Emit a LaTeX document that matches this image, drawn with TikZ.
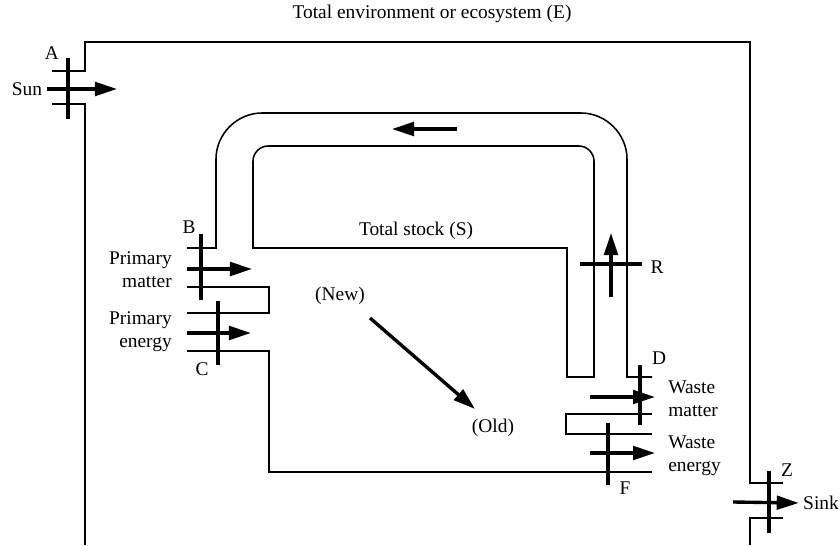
\documentclass[tikz,border=0pt]{standalone}
\usepackage{fontspec}
\setmainfont{Liberation Serif}
\usetikzlibrary{arrows.meta}

\tikzset{
  wall/.style={line width=1.1pt},
  gate/.style={line width=2.4pt},
  flow/.style={line width=2.4pt,-{Triangle[length=5.5mm,width=3.4mm]}},
  lbl/.style={inner sep=0pt,font=\fontsize{13.8}{16.3}\selectfont},
}

\begin{document}
\begin{tikzpicture}[x=0.025cm,y=-0.025cm]
\useasboundingbox (0,0) rectangle (840,545);
% environment (E)
\draw[wall] (52,71) -- (85,71) -- (85,42) -- (750,42) -- (750,483) -- (783,483);
\draw[wall] (52,104) -- (85,104) -- (85,545);
\draw[wall] (783,518) -- (750,518) -- (750,545);
% stock (S) with its return pipe
\draw[wall] (187,248) -- (216,248) -- (216,159) .. controls (216,134) and (237,113) .. (262,113)
  -- (581,113) .. controls (606,113) and (627,134) .. (627,159) -- (627,377) -- (652,377);
\draw[wall] (253,248) -- (567,248) -- (567,377) -- (594,377) -- (594,161)
  .. controls (594,153) and (587,146) .. (579,146) -- (268,146)
  .. controls (260,146) and (253,153) .. (253,161) -- cycle;
\draw[wall] (187,287) -- (269,287) -- (269,313) -- (187,313);
\draw[wall] (187,351) -- (269,351) -- (269,472) -- (652,472);
\draw[wall] (652,414) -- (566,414) -- (566,434) -- (652,434);

% gates
\draw[gate] (68,58) -- (68,119);
\draw[gate] (201,234) -- (201,300);
\draw[gate] (218,301) -- (218,365);
\draw[gate] (580,264) -- (642,264);
\draw[gate] (640,365) -- (640,425);
\draw[gate] (608,423) -- (608,485);
\draw[gate] (769,471) -- (769,533);

% labels
\node[lbl] (env) at (432,14) {Total environment or ecosystem (E)};
\node[lbl] (stock) at (416,231) {Total stock (S)};
\node[lbl] (ga) at (52,53) {A};
\node[lbl] (gb) at (189,227) {B};
\node[lbl] (gc) at (202,369) {C};
\node[lbl] (gr) at (657,267) {R};
\node[lbl] (gd) at (659,358) {D};
\node[lbl] (gf) at (625,488) {F};
\node[lbl] (gz) at (787,470) {Z};
\node[lbl,inner xsep=3.5pt] (sun) at (27,89) {Sun};
\node[lbl,inner xsep=3pt] (sink) at (821,503) {Sink};
\node[lbl,align=right,anchor=east] (pm) at (172,270) {Primary\\matter};
\node[lbl,align=right,anchor=east] (pe) at (172,332) {Primary\\energy};
\node[lbl,align=left,anchor=west] (wm) at (668,399) {Waste\\matter};
\node[lbl,align=left,anchor=west] (we) at (668,456) {Waste\\energy};
\node[lbl] (new) at (340,296) {(New)};
\node[lbl] (old) at (493,428) {(Old)};

% flows
\coordinate (sunin) at (117,89);
\coordinate (sinkout) at (733,502);
\coordinate (pm1) at (187,269); \coordinate (pm2) at (252,269);
\coordinate (pe1) at (187,333); \coordinate (pe2) at (251,333);
\coordinate (wm1) at (590,397); \coordinate (wm2) at (655,397);
\coordinate (we1) at (590,453); \coordinate (we2) at (655,453);
\coordinate (top1) at (457,129); \coordinate (top2) at (392,129);
\coordinate (r1) at (611,297); \coordinate (r2) at (611,233);
\coordinate (age1) at (370,318); \coordinate (age2) at (475,409);
\draw[flow] (sun.east) -- (sunin);
\draw[flow] (sinkout) -- (sink.west);
\draw[flow] (pm1) -- (pm2);
\draw[flow] (pe1) -- (pe2);
\draw[flow] (wm1) -- (wm2);
\draw[flow] (we1) -- (we2);
\draw[flow] (top1) -- (top2);
\draw[flow] (r1) -- (r2);
\draw[flow] (age1) -- (age2);
\end{tikzpicture}
\end{document}
